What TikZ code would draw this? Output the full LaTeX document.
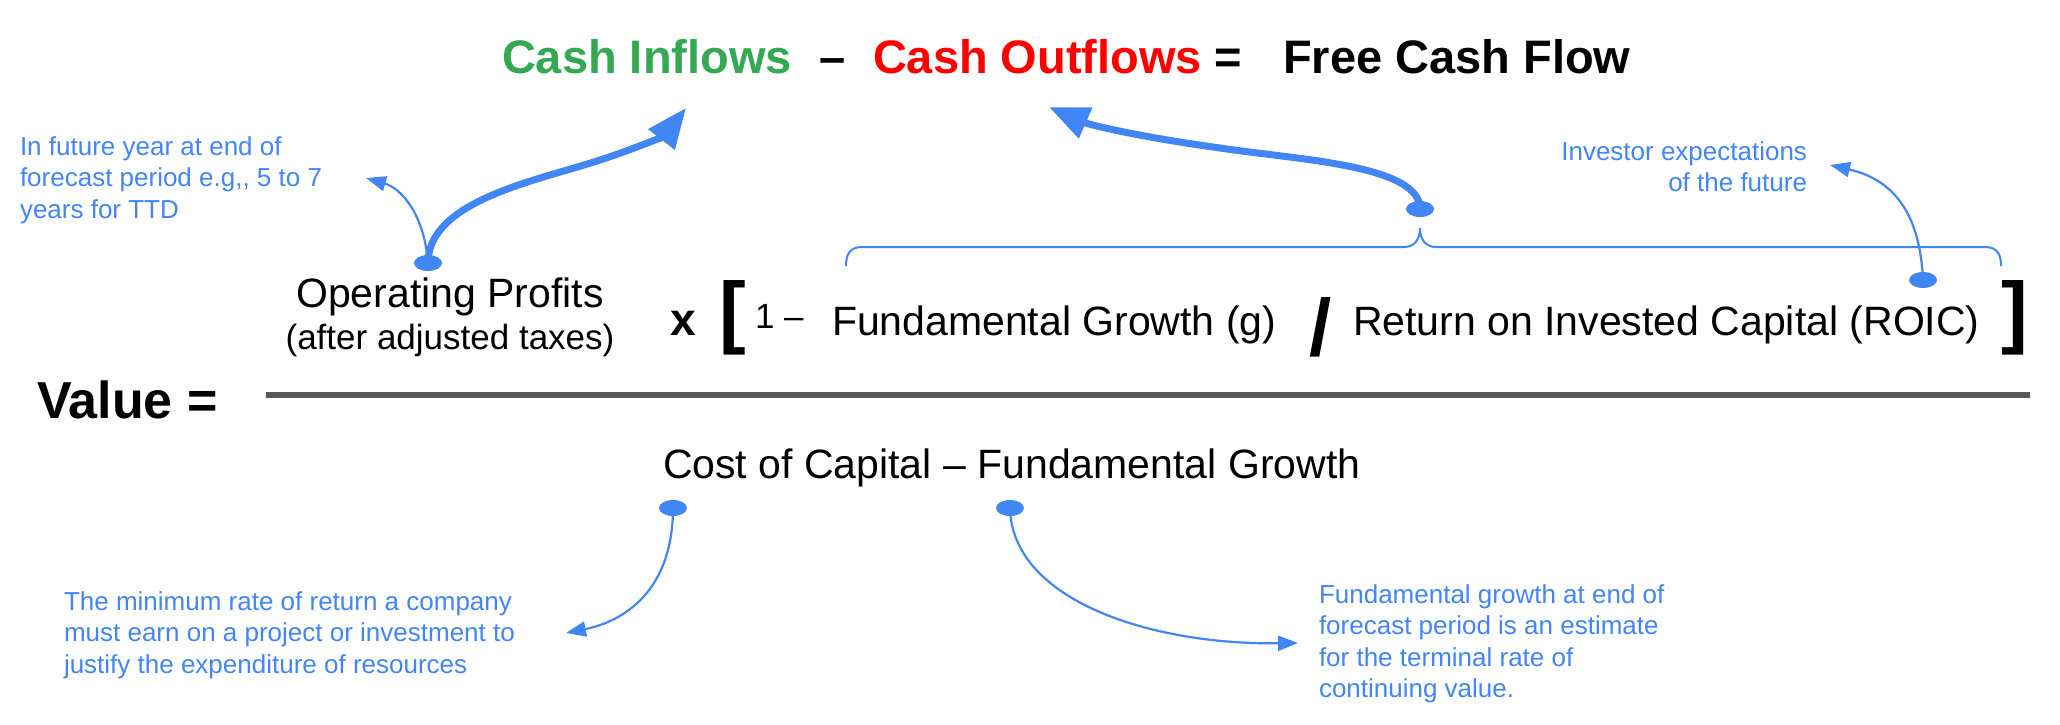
\documentclass[tikz,border=0pt]{standalone}
\usepackage{fontspec}
\setmainfont{Liberation Sans}
\usetikzlibrary{arrows.meta,shapes.geometric}
\definecolor{gblue}{HTML}{4285F4}
\definecolor{ggreen}{HTML}{34A853}
\definecolor{gred}{HTML}{FF0000}
\definecolor{lgray}{HTML}{595959}
\begin{document}
\begin{tikzpicture}[x=1pt,y=-1pt,
  every node/.style={inner sep=0pt, outer sep=0pt},
  title/.style={font=\fontsize{47}{56}\selectfont\bfseries},
  main/.style={font=\fontsize{41}{49}\selectfont},
  ann/.style={font=\fontsize{26}{31.5}\selectfont, text=gblue},
  dot/.style={ellipse, fill=gblue, minimum width=28pt, minimum height=16pt},
  bigarrow/.style={draw=gblue, line width=7pt, -{Triangle[length=40pt,width=32pt]}},
  thinarrow/.style={draw=gblue, line width=2.2pt, -{Triangle[length=20pt,width=15pt]}},
]
\useasboundingbox (0,0) rectangle (2060,724);

% top line
\node[title, text=ggreen, anchor=base west] (cin) at (502,73) {Cash Inflows};
\node[title, anchor=base west] (minus) at (819,73) {–};
\node[title, text=gred, anchor=base west] (cout) at (873,73) {Cash Outflows};
\node[title, anchor=base west] (eq) at (1214,73) {=};
\node[title, anchor=base west] (fcf) at (1283,73) {Free Cash Flow};

% numerator
\node[main, anchor=base] (op) at (450,307) {Operating Profits};
\node[font=\fontsize{35}{42}\selectfont, anchor=base] (opsub) at (450,349) {(after adjusted taxes)};
\node[font=\fontsize{46}{55}\selectfont\bfseries, anchor=base west] (times) at (670,335) {x};
\node[font=\fontsize{80}{96}\selectfont\bfseries] (lbr) at (733,318) {[};
\node[font=\fontsize{35}{42}\selectfont, anchor=base west] (one) at (755,328) {1 –};
\node[main, anchor=base west] (fg) at (832,335) {Fundamental Growth (g)};
\node[font=\fontsize{80}{96}\selectfont\bfseries] (slash) at (1321,327) {/};
\node[main, anchor=base west] (roic) at (1353,335) {Return on Invested Capital (ROIC)};
\node[font=\fontsize{80}{96}\selectfont\bfseries] (rbr) at (2015,318) {]};

% value and fraction bar
\node[font=\fontsize{52}{62}\selectfont\bfseries, anchor=base west] (value) at (37,418) {Value =};
\draw[lgray, line width=6pt] (266,395) -- (2030,395);

% denominator
\node[main, anchor=base west] (cost) at (663,478) {Cost of Capital – Fundamental Growth};

% annotations (base anchor = last line)
\node[ann, align=left, anchor=base west] (a1) at (20,218) {In future year at end of\\forecast period e.g,\kern0pt, 5 to 7\\years for TTD};
\node[ann, align=right, anchor=base east] (a2) at (1807,191.5) {Investor expectations\\of the future};
\node[ann, align=left, anchor=base west] (a3) at (64,673) {The minimum rate of return a company\\must earn on a project or investment to\\justify the expenditure of resources};
\node[ann, align=left, anchor=base west] (a4) at (1319,697.5) {Fundamental growth at end of\\forecast period is an estimate\\for the terminal rate of\\continuing value.};

% brace
\draw[gblue, line width=2pt] (846,266) .. controls (846,254) and (850,247) .. (862,247) -- (1404,247)
  .. controls (1414,247) and (1420,240) .. (1420,228)
  .. controls (1420,240) and (1426,247) .. (1436,247) -- (1985,247)
  .. controls (1997,247) and (2001,254) .. (2001,266);

% dots
\node[dot] (opdot) at (428,263) {};
\node[dot] (bdot) at (1420,209) {};
\node[dot] (rdot) at (1923,280) {};
\node[dot] (cdot) at (673,508) {};
\node[dot] (gdot) at (1010,508) {};

% arrow tips
\coordinate (t1) at (686,108);
\coordinate (t2) at (1049,107);
\coordinate (t3) at (1830,165);
\coordinate (t4) at (366,178);
\coordinate (t5) at (566,633);
\coordinate (t6) at (1298,643);

% arrows
\draw[bigarrow] (opdot.center) .. controls (428,200) and (540,180) .. (600,160) .. controls (640,147) and (665,135) .. (t1);
\draw[bigarrow] (bdot.center) .. controls (1420,165) and (1300,160) .. (1220,148) .. controls (1140,137) and (1090,125) .. (t2);
\draw[thinarrow] (rdot.center) .. controls (1920,215) and (1895,180) .. (t3);
\draw[thinarrow] (opdot.center) .. controls (424,212) and (400,188) .. (t4);
\draw[thinarrow] (cdot.center) .. controls (673,585) and (630,620) .. (t5);
\draw[thinarrow] (gdot.center) .. controls (1012,600) and (1150,645) .. (t6);
\end{tikzpicture}
\end{document}
